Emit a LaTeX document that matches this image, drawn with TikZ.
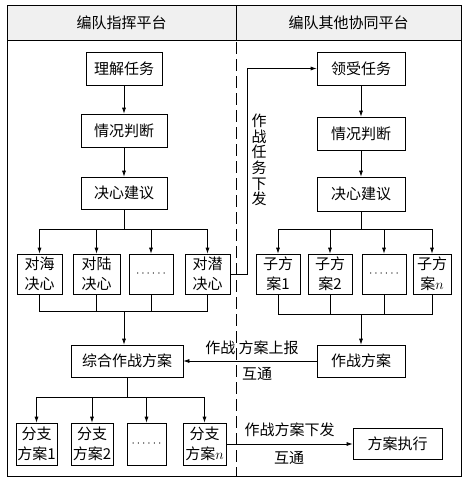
\documentclass[tikz,border=0pt]{standalone}
\usepackage{fontspec}
\setmainfont{Noto Sans CJK SC}
\usetikzlibrary{arrows.meta,calc}
\newcommand{\dotrow}{{\fontsize{12}{12}\selectfont$\cdots\cdots$}}
\tikzset{
  box/.style={draw, line width=0.7pt, inner sep=0pt, align=center, font=\fontsize{15}{20}\selectfont},
  arr/.style={line width=0.7pt, -{Latex[length=6pt,width=4pt]}},
  ln/.style={line width=0.7pt},
  lbl/.style={inner sep=0pt, font=\fontsize{15}{18}\selectfont}
}

\begin{document}
\begin{tikzpicture}[x=1pt, y=-1pt]
			%%%%% START %%%%%
			\useasboundingbox (0, 0) rectangle (468, 485);
			
			% frame and header
			\fill[black!6] (7, 5) rectangle (461, 40);
			\draw[ln] (7, 5) rectangle (461, 476);
			\draw[ln] (7, 40) -- (461, 40);
			\draw[ln] (236, 5) -- (236, 40);
			\draw[ln, dash pattern=on 12pt off 5pt] (236, 42) -- (236, 476);
			\node[lbl] (hl) at (121.5, 23) {编队指挥平台};
			\node[lbl] (hr) at (348.5, 23) {编队其他协同平台};
			
			% left column
			\node[box, minimum width=76, minimum height=33] (lt1) at (124, 68.5) {理解任务};
			\node[box, minimum width=86, minimum height=33] (lt2) at (124, 130.5) {情况判断};
			\node[box, minimum width=86, minimum height=32] (lt3) at (124, 193) {决心建议};
			\node[box, minimum width=45, minimum height=40] (lb1) at (39.5, 274) {对海\\决心};
			\node[box, minimum width=47, minimum height=40] (lb2) at (96.5, 274) {对陆\\决心};
			\node[box, minimum width=44, minimum height=40] (lb3) at (151, 274) {\dotrow};
			\node[box, minimum width=45, minimum height=40] (lb4) at (207.5, 274) {对潜\\决心};
			\node[box, minimum width=112, minimum height=32] (lc) at (127, 361) {综合作战方案};
			\node[box, minimum width=41, minimum height=42] (lf1) at (36.5, 444) {分支\\方案1};
			\node[box, minimum width=42, minimum height=42] (lf2) at (92, 444) {分支\\方案2};
			\node[box, minimum width=39, minimum height=42] (lf3) at (146.5, 444) {\dotrow};
			\node[box, minimum width=43, minimum height=42] (lf4) at (204.5, 444) {分支\\方案$n$};
			
			% right column
			\node[box, minimum width=88, minimum height=33] (rt1) at (361, 68.5) {领受任务};
			\node[box, minimum width=88, minimum height=33] (rt2) at (361, 133.5) {情况判断};
			\node[box, minimum width=88, minimum height=34] (rt3) at (361, 194) {决心建议};
			\node[box, minimum width=44, minimum height=40] (rb1) at (278, 274) {子方\\案1};
			\node[box, minimum width=44, minimum height=40] (rb2) at (330, 274) {子方\\案2};
			\node[box, minimum width=44, minimum height=40] (rb3) at (384, 274) {\dotrow};
			\node[box, minimum width=38, minimum height=40] (rb4) at (432, 274) {子方\\案$n$};
			\node[box, minimum width=88, minimum height=32] (rc) at (361, 361) {作战方案};
			\node[box, minimum width=89, minimum height=31] (rx) at (397.5, 443.5) {方案执行};
			
			% left flow
			\draw[arr] (lt1) -- (lt2);
			\draw[arr] (lt2) -- (lt3);
			\foreach \i in {1,...,4}
				\draw[arr] (lt3.south) -- ++(0, 20) -| (lb\i.north);
			\coordinate (lm) at (124, 311);
			\foreach \i in {1,...,4}
				\draw[ln] (lb\i.south) |- (lm);
			\draw[arr] (lm) -- (lm |- lc.north);
			\foreach \i in {1,...,4}
				\draw[arr] (lc.south) -- ++(0, 20) -| (lf\i.north);
			
			% right flow
			\draw[arr] (rt1) -- (rt2);
			\draw[arr] (rt2) -- (rt3);
			\foreach \i in {1,...,4}
				\draw[arr] (rt3.south) -- ++(0, 18) -| (rb\i.north);
			\coordinate (rm) at (361, 314);
			\foreach \i in {1,...,4}
				\draw[ln] (rb\i.south) |- (rm);
			\draw[arr] (rm) -- (rc.north);
			
			% cross links
			\draw[arr] (lb4.east) -- ++(17, 0) |- (rt1.west);
			\node[lbl, align=center, font=\fontsize{15}{15.7}\selectfont] (task) at (259, 160) {作\\战\\任\\务\\下\\发};
			\draw[arr] (rc.west) -- (lc.east);
			\node[lbl] (up) at (252, 348) {作战\ 方案上报};
			\node[lbl] (upx) at (257, 374) {互通};
			\draw[arr] (lf4.east) -- (lf4.east -| rx.west);
			\node[lbl] (down) at (289.5, 430) {作战方案下发};
			\node[lbl] (downx) at (289, 458) {互通};
			
			%%%%% END %%%%%
		\end{tikzpicture}
\end{document}
